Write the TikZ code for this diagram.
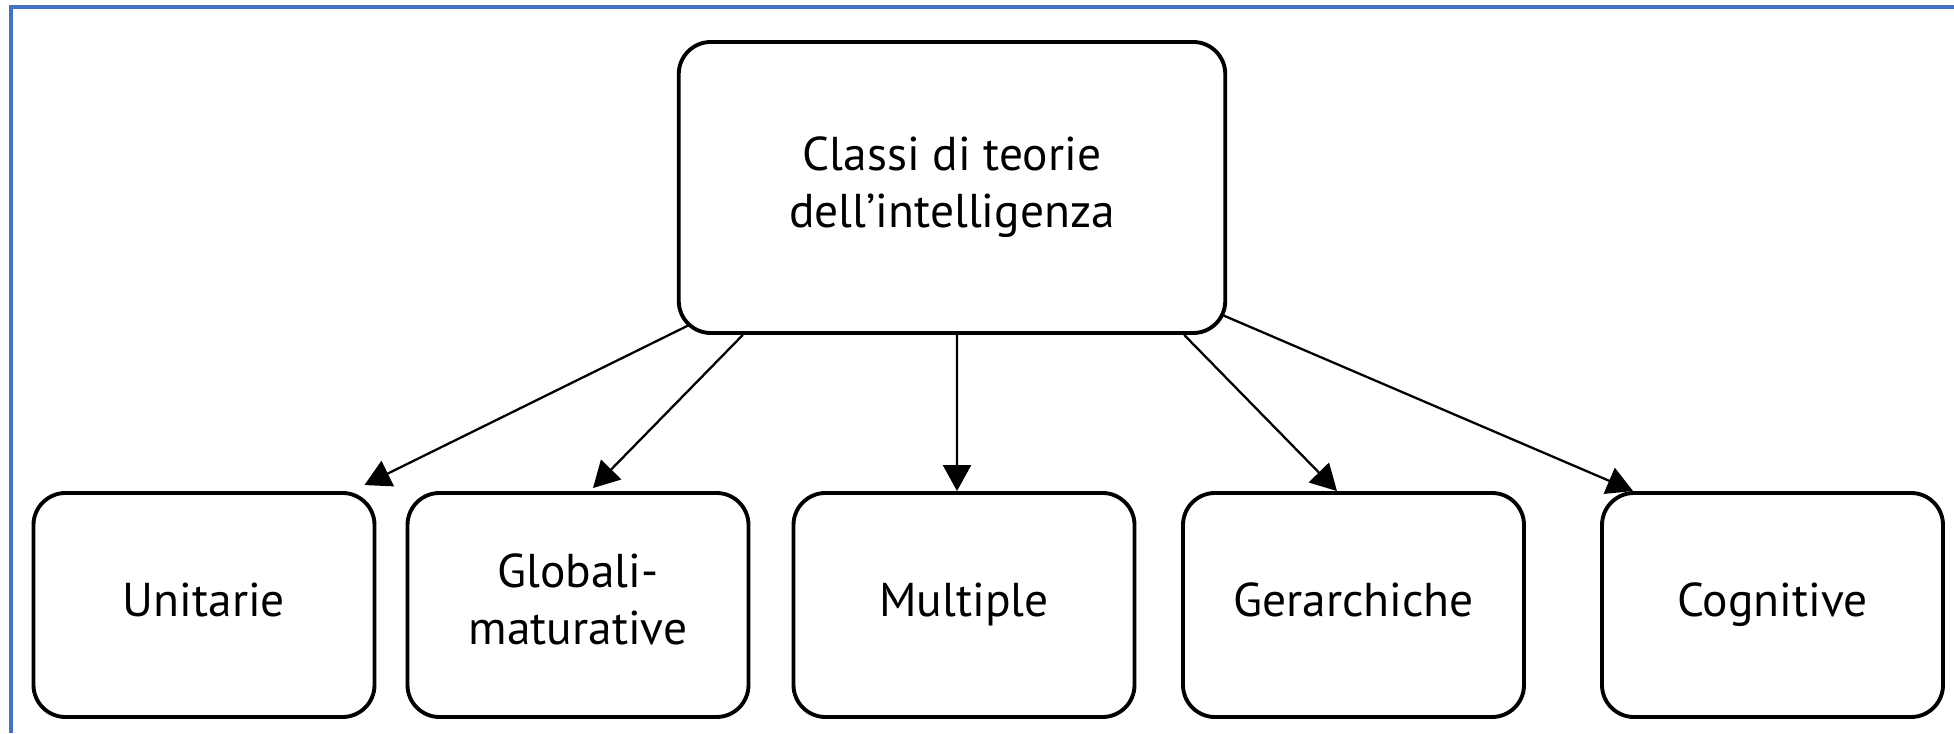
\documentclass[tikz,border=0pt]{standalone}
\usepackage{fontspec}
\setmainfont{PT Sans}
\usetikzlibrary{positioning,arrows.meta}
\definecolor{framebl}{RGB}{68,114,196}

\tikzset{
  classbox/.style={draw, line width=1.1pt, rounded corners=0.32cm, inner sep=0pt,
    align=center, font=\fontsize{13.5}{16.2}\selectfont},
  sub/.style={classbox, minimum width=3.41cm, minimum height=2.24cm},
  freccia/.style={-{Triangle[length=2.6mm,width=2.8mm]}, line width=0.65pt}
}

\begin{document}
\begin{tikzpicture}[x=1cm, y=1cm]

      \useasboundingbox (0,0) rectangle (19.54,7.33);
      \draw [framebl, line width=1.2pt] (0.11,0) -- (0.11,7.26) -- (19.54,7.26);

      \node [classbox, minimum width=5.465cm, minimum height=2.91cm] at (9.52, 5.455) (classi) {Classi di teorie\strut\\dell’intelligenza\strut};

      \node [sub] at (2.04, 1.28) (unit) {Unitarie\strut};
      \node [sub] at (5.78, 1.28) (glob) {Globali-\strut\\maturative\strut};
      \node [sub] at (9.64, 1.28) (mult) {Multiple\strut};
      \node [sub] at (13.535, 1.28) (gerar) {Gerarchiche\strut};
      \node [sub] at (17.725, 1.28) (cogn) {Cognitive\strut};

      \draw [freccia] ([xshift=0.125cm,yshift=0.1cm]classi.south west) -- ([xshift=-0.12cm,yshift=0.06cm]unit.north east);
      \draw [freccia] ([xshift=0.66cm]classi.south west) -- ([xshift=0.15cm,yshift=0.03cm]glob.north);
      \draw [freccia] ([xshift=0.05cm]classi.south) -- ([xshift=-0.07cm]mult.north);
      \draw [freccia] ([xshift=-0.43cm]classi.south east) -- ([xshift=-0.165cm]gerar.north);
      \draw [freccia] ([xshift=-0.05cm,yshift=0.2cm]classi.south east) -- ([xshift=0.33cm]cogn.north west);
    \end{tikzpicture}
\end{document}
